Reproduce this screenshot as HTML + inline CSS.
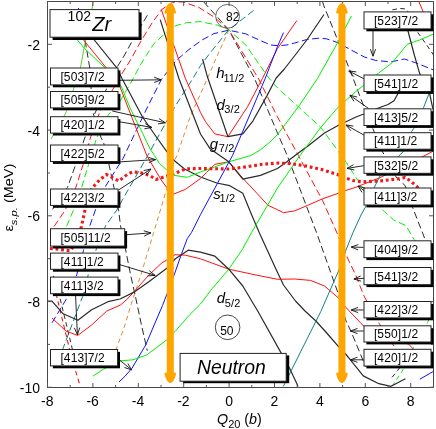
<!DOCTYPE html>
<html><head><meta charset="utf-8"><title>102Zr neutron single-particle energies</title>
<style>html,body{margin:0;padding:0;background:#fff}body{width:436px;height:429px;overflow:hidden;position:relative;font-family:"Liberation Sans",sans-serif}</style>
</head><body>
<svg width="436" height="429" viewBox="0 0 436 429" style="position:absolute;left:0;top:0;will-change:transform">
<defs><clipPath id="c"><rect x="47.5" y="1.5" width="386.0" height="386.0"/></clipPath></defs>
<rect x="0" y="0" width="436" height="429" fill="#fff"/>
<g clip-path="url(#c)" fill="none" stroke-linejoin="round">
<polyline points="52.5,209.4 60.0,198.0 67.4,187.6 75.8,164.3 84.0,140.0 90.0,124.0 95.5,112.0 105.0,92.0 116.8,67.5 124.0,56.0 135.0,36.0 147.8,14.5" stroke="#2a2a2a" stroke-width="1.0" stroke-dasharray="7 3.5"/>
<polyline points="203.7,1.9 228.8,29.8 254.3,78.0 276.2,130.0 287.2,155.5 316.5,232.5 338.5,294.4 345.6,320.0 351.1,331.6 363.5,361.5 366.0,367.0" stroke="#2a2a2a" stroke-width="1.0" stroke-dasharray="7 3.5"/>
<polyline points="54.0,226.5 65.0,210.5 75.8,187.6 83.2,164.3 90.7,136.7 100.0,111.5 112.5,90.0 120.5,76.0 130.5,60.0 141.6,40.0 152.0,23.0 162.0,9.3 172.4,2.6 178.0,1.8 183.5,2.0 199.0,7.5 214.0,17.0 228.8,29.8 258.7,79.0 277.5,117.0 298.4,155.5 322.6,200.6 337.0,233.0 345.4,253.4 356.0,275.8 364.0,296.0 379.4,323.8 394.3,346.5 398.0,352.0" stroke="#ff1010" stroke-width="1.0" stroke-dasharray="7 3.5"/>
<polyline points="57.0,245.0 66.7,226.0 73.5,210.0 81.6,187.6 88.6,164.3 96.6,138.0 108.5,114.5 120.0,101.4 132.4,80.0 140.0,65.5 146.2,55.5 154.0,43.5 162.0,36.2 166.6,32.3 176.0,25.6 186.2,22.8 200.0,21.6 217.6,25.2 228.8,29.8 245.6,44.8 269.0,78.3 277.5,88.0 298.4,106.8 320.8,127.4 338.5,151.6 346.2,162.4 362.0,186.7 380.3,207.8 393.7,220.0 406.0,225.7 413.8,239.2 424.0,252.0 433.5,261.0" stroke="#00f000" stroke-width="1.0" stroke-dasharray="7 3.5"/>
<polyline points="52.0,322.8 68.2,296.0 76.7,274.8 83.5,250.5 89.8,225.8 95.4,210.0 104.7,187.6 123.0,158.5 136.0,131.0 148.0,106.0 161.2,79.8 176.0,60.6 189.0,49.5 202.0,40.0 214.0,33.6 228.8,30.2 245.6,33.8 260.5,40.6 270.8,45.0 279.0,45.8 288.0,44.8 294.6,43.0 306.8,39.5 318.9,38.2 326.4,38.8 337.5,42.5 353.0,51.0 364.4,57.0 375.8,60.5 391.0,61.9 404.4,59.0 415.8,62.8 434.7,70.4" stroke="#1010ff" stroke-width="1.0" stroke-dasharray="7 3.5"/>
<polyline points="58.0,360.0 62.8,349.0 82.6,296.5 88.3,274.5 95.8,250.5 105.6,225.8 116.8,210.0 122.0,200.6 147.2,156.5 165.8,122.7 174.2,107.8 193.8,77.0 200.5,65.5 214.0,48.0 228.8,29.8 242.0,19.5 255.0,9.3" stroke="#108080" stroke-width="1.0" stroke-dasharray="7 3.5"/>
<polyline points="113.0,358.0 116.5,348.3 125.0,325.0 131.2,304.0 140.6,275.8 153.7,232.5 166.8,188.5 174.2,161.5 177.0,155.5 190.0,117.0 200.0,95.0 207.8,77.5 218.0,54.0 228.8,30.2" stroke="#e08a30" stroke-width="1.0" stroke-dasharray="4.6 3.4"/>
<polyline points="84.0,30.0 85.0,40.0 89.8,68.0 91.5,95.0 92.8,112.0 101.0,137.6 103.7,143.0 109.3,166.0 114.0,187.6 118.7,210.9 120.5,225.8 125.4,248.7 130.4,273.9 136.2,300.0 141.5,325.2 147.3,350.8" stroke="#2a2a2a" stroke-width="1.0" stroke-dasharray="7 3.5"/>
<polyline points="52.0,278.0 56.9,297.0 69.5,349.0 75.0,369.0 79.6,384.0" stroke="#ff1010" stroke-width="1.1" stroke-dasharray="4.6 3.4"/>
<polyline points="53.4,275.8 59.7,297.0 72.3,349.0 74.5,360.0" stroke="#2a2a2a" stroke-width="1.0" stroke-dasharray="4.6 3.4"/>
<polyline points="322.5,1.5 323.6,5.2 338.5,42.0 350.6,71.8 364.0,107.0 373.0,129.0 382.0,151.0 385.0,156.0 396.0,177.0 405.0,185.5 412.7,207.7 425.0,239.2 433.5,259.0" stroke="#2a2a2a" stroke-width="1.0" stroke-dasharray="7 3.5"/>
<polyline points="392.4,9.8 399.6,8.5 406.0,8.9 409.0,13.0 413.0,24.0 417.9,32.6 426.0,44.0 433.9,55.5" stroke="#2a2a2a" stroke-width="1.0" stroke-dasharray="4.6 3.4"/>
<polyline points="392.0,386.3 402.0,371.5 414.0,346.5 427.5,322.5 433.5,311.0" stroke="#00f000" stroke-width="1.0" stroke-dasharray="4.6 3.4"/>
<polyline points="392.0,377.4 397.7,370.4 401.0,366.0" stroke="#2a2a2a" stroke-width="1.0" stroke-dasharray="4.6 3.4"/>
<polyline points="78.3,8.0 78.9,9.4" stroke="#1010ff" stroke-width="1.0"/>
<polyline points="93.0,1.5 92.0,9.5 89.0,25.0 85.6,40.0 80.4,68.0 73.9,88.2 66.4,111.5 59.0,126.0 52.8,135.7 51.2,139.0" stroke="#50c818" stroke-width="0.9"/>
<polyline points="88.0,32.0 93.9,39.5 116.8,67.8 122.0,78.5 142.5,117.0 157.4,138.5 166.8,151.6 174.2,160.5 184.5,169.0 200.5,177.0 216.7,183.0 229.8,185.7 242.8,193.2 251.2,213.7 259.2,232.5 276.0,269.2 283.5,285.0 295.5,301.0 305.0,311.0 315.9,321.0 326.3,332.5 339.0,347.2 345.2,353.5 350.0,359.3 363.3,375.9 378.8,383.7 391.0,386.3 405.4,378.8" stroke="#2a2a2a" stroke-width="1.2"/>
<polyline points="77.0,32.0 83.2,39.5 105.6,67.1 120.0,86.8 128.2,108.0 147.0,156.0 161.2,180.0 166.8,187.6 173.8,194.0 185.4,189.4 200.5,178.5 206.5,172.6 214.9,164.3 228.8,161.8 242.8,178.2 256.8,193.2 268.0,205.3 277.0,209.5 283.5,212.7 294.6,210.9 307.7,205.3 322.6,198.8 338.5,193.2 346.0,190.4 356.0,187.2 379.6,177.8 400.0,168.0 419.3,158.3 431.4,152.2 433.5,151.0" stroke="#ff1010" stroke-width="1.0"/>
<polyline points="71.0,32.0 77.0,39.5 85.0,48.9 104.7,67.5 121.2,86.2 130.5,109.0 140.6,129.2 150.0,148.8 154.5,155.5 159.3,163.3 166.8,169.9 174.2,175.4 187.3,177.3 200.5,172.0 228.8,161.8 251.0,155.5 260.5,149.7 270.8,141.3 277.5,134.5 298.4,106.8 317.5,78.5 337.5,42.9 351.5,15.9" stroke="#00f000" stroke-width="1.0"/>
<polyline points="160.2,19.6 178.9,78.5 200.5,134.0 210.2,148.8 217.6,153.9 228.8,161.8 242.8,179.2 260.5,175.4 277.5,168.5 287.2,161.5 296.0,154.8 308.6,145.4 324.5,133.0 338.5,125.3 346.0,121.8 356.0,117.0 363.8,114.0 372.0,110.5 378.5,108.0 388.0,104.5 394.0,100.7 398.3,93.0 401.0,86.0" stroke="#2a2a2a" stroke-width="1.2"/>
<polyline points="161.2,9.3 185.4,78.5 200.5,112.5 205.5,121.8 214.9,133.9 227.9,136.7 247.5,106.8 262.4,78.5 277.5,48.5 296.9,20.5" stroke="#ff1010" stroke-width="1.0"/>
<polyline points="202.6,59.0 207.4,76.8 227.9,136.7 242.8,133.9 253.0,120.8 267.0,95.6 276.2,78.0 284.4,69.0 306.8,40.0 324.0,14.5" stroke="#2a2a2a" stroke-width="1.2"/>
<polyline points="119.0,382.0 125.0,376.2 132.0,368.2 145.7,345.0 155.0,323.0 162.5,305.5 166.8,294.4 174.2,274.8 181.7,253.4 187.3,238.5 191.5,232.5 200.5,214.6 232.5,155.5 265.2,78.5 277.5,46.5 283.5,32.6" stroke="#1010ff" stroke-width="1.0"/>
<polyline points="419.8,379.2 433.5,371.3" stroke="#1010ff" stroke-width="1.0"/>
<polyline points="92.8,376.2 103.3,369.3 119.5,360.9 133.0,359.8 146.7,355.0 166.6,339.9 175.0,331.5 189.7,314.7 200.5,304.0 212.0,288.8 228.8,269.2 242.8,248.7 251.6,232.5 277.5,188.0 300.0,155.5 320.8,127.4 338.5,106.8 346.0,100.3 356.0,91.3 363.8,85.3 378.5,73.2 392.0,62.8 407.3,44.2 419.6,40.0 433.9,33.9" stroke="#00f000" stroke-width="1.0"/>
<polyline points="52.0,318.0 66.0,331.0 77.7,335.5 91.6,325.0 106.8,311.0 120.5,305.0 126.8,299.5 135.0,290.7 148.1,275.8 162.0,262.7 166.8,260.0 175.0,254.7 185.4,255.2 200.5,258.8 228.8,269.2 255.0,274.8 277.5,279.3 294.6,279.0 310.5,280.4 324.5,286.0 338.5,298.0 346.0,307.5 363.7,326.2 385.0,337.0 408.7,344.2 413.2,348.9" stroke="#ff1010" stroke-width="1.0"/>
<polyline points="47.5,301.0 52.0,301.2 63.2,313.8 77.9,320.2 91.6,309.8 108.0,301.7 120.0,299.0 135.0,291.6 148.1,282.3 166.8,268.3 175.0,259.0 188.2,250.2 200.5,252.2 214.9,256.2 228.8,269.2 242.8,286.0 257.7,311.0 280.8,352.4 289.6,368.2 297.0,384.0 298.0,386.5" stroke="#2a2a2a" stroke-width="1.2"/>
<polyline points="283.3,386.4 320.8,311.5 338.5,271.0 345.4,251.5 353.0,232.5 361.0,215.0 366.0,206.0 374.1,187.8 380.7,174.5 399.0,155.8 403.9,151.0 411.6,131.6 413.8,128.3 423.7,107.3 429.2,93.0 433.5,82.0" stroke="#108080" stroke-width="1.0"/>
<polyline points="407.5,29.0 408.0,31.0 414.6,56.0 419.6,73.3 425.0,86.0 429.5,93.0 432.5,107.0 433.5,111.0" stroke="#2a2a2a" stroke-width="1.2"/>
<polyline points="418.8,1.5 423.0,11.4 432.0,28.6 433.5,31.5" stroke="#ff1010" stroke-width="1.0"/>
<polyline points="50.0,248.4 60.0,249.5 70.0,250.8 76.0,243.0 81.4,226.7 85.0,210.0 88.5,196.0 92.2,188.0 99.5,180.0 106.3,174.5 112.5,177.6 119.0,181.0 127.8,174.0 133.0,171.8 140.6,172.8 150.0,175.6 156.0,179.5 163.1,177.2 175.0,173.4 185.5,168.8 202.0,168.5 228.8,169.0 247.5,166.7 262.4,164.3 279.0,163.0 291.0,163.7 305.8,166.0 320.8,169.3 337.5,174.5 346.0,178.2 353.2,180.5 362.0,181.8 379.6,181.0 397.2,179.0 405.0,177.4 410.5,181.0 417.0,186.6 420.0,191.0" stroke="#f01818" stroke-width="3.1" stroke-dasharray="2.8 2.8"/>
</g>
<rect x="47.5" y="1.5" width="386.0" height="386.0" fill="none" stroke="#333" stroke-width="0.9"/>
<path d="M47.5 387.5v-4.5M47.5 1.5v4.5M70.2 387.5v-2.5M70.2 1.5v2.5M92.9 387.5v-4.5M92.9 1.5v4.5M115.6 387.5v-2.5M115.6 1.5v2.5M138.3 387.5v-4.5M138.3 1.5v4.5M161.0 387.5v-2.5M161.0 1.5v2.5M183.7 387.5v-4.5M183.7 1.5v4.5M206.4 387.5v-2.5M206.4 1.5v2.5M229.1 387.5v-4.5M229.1 1.5v4.5M251.8 387.5v-2.5M251.8 1.5v2.5M274.5 387.5v-4.5M274.5 1.5v4.5M297.2 387.5v-2.5M297.2 1.5v2.5M319.9 387.5v-4.5M319.9 1.5v4.5M342.6 387.5v-2.5M342.6 1.5v2.5M365.3 387.5v-4.5M365.3 1.5v4.5M388.0 387.5v-2.5M388.0 1.5v2.5M410.7 387.5v-4.5M410.7 1.5v4.5M433.4 387.5v-2.5M433.4 1.5v2.5M47.5 387.3h4.5M433.5 387.3h-4.5M47.5 344.4h2.5M433.5 344.4h-2.5M47.5 301.6h4.5M433.5 301.6h-4.5M47.5 258.7h2.5M433.5 258.7h-2.5M47.5 215.8h4.5M433.5 215.8h-4.5M47.5 173.0h2.5M433.5 173.0h-2.5M47.5 130.1h4.5M433.5 130.1h-4.5M47.5 87.2h2.5M433.5 87.2h-2.5M47.5 44.3h4.5M433.5 44.3h-4.5M47.5 1.5h2.5M433.5 1.5h-2.5" stroke="#555" stroke-width="1" fill="none"/>
<path d="M170.30 3.20C173.60 3.20 175.00 8.40 176.15 12.40Q176.35 13.70 173.80 13.60L173.80 372.60Q176.35 372.50 176.15 373.80C175.00 377.80 173.60 383.00 170.30 383.00C167.00 383.00 165.60 377.80 164.45 373.80Q164.25 372.50 166.80 372.60L166.80 13.60Q164.25 13.70 164.45 12.40C165.60 8.40 167.00 3.20 170.30 3.20z" fill="#FFA500"/>
<path d="M341.95 3.20C345.25 3.20 346.65 8.40 347.80 12.40Q348.00 13.70 345.45 13.60L345.45 372.60Q348.00 372.50 347.80 373.80C346.65 377.80 345.25 383.00 341.95 383.00C338.65 383.00 337.25 377.80 336.10 373.80Q335.90 372.50 338.45 372.60L338.45 13.60Q335.90 13.70 336.10 12.40C337.25 8.40 338.65 3.20 341.95 3.20z" fill="#FFA500"/>
<circle cx="227.6" cy="16.3" r="11.9" fill="none" stroke="#444" stroke-width="0.8"/>
<circle cx="227.6" cy="327.3" r="12.3" fill="none" stroke="#333" stroke-width="0.9"/>
<path d="M119.5 80.3L161.2 79.8M154.2 82.5L161.2 79.8L154.1 77.2" stroke="#111" stroke-width="0.9" fill="none"/>
<path d="M112.3 111.0L165.4 122.8M158.0 123.9L165.4 122.8L159.1 118.7" stroke="#111" stroke-width="0.9" fill="none"/>
<path d="M119.6 121.8L151.8 127.4M144.4 128.8L151.8 127.4L145.3 123.6" stroke="#111" stroke-width="0.9" fill="none"/>
<path d="M119.6 161.9L155.6 159.6M148.8 162.7L155.6 159.6L148.4 157.4" stroke="#111" stroke-width="0.9" fill="none"/>
<path d="M118.5 190.0L151.0 169.0M146.5 175.0L151.0 169.0L143.7 170.6" stroke="#111" stroke-width="0.9" fill="none"/>
<path d="M127.0 234.7L151.0 232.9M144.2 236.1L151.0 232.9L143.8 230.8" stroke="#111" stroke-width="0.9" fill="none"/>
<path d="M119.6 264.6L155.2 275.4M147.7 275.9L155.2 275.4L149.3 270.8" stroke="#111" stroke-width="0.9" fill="none"/>
<path d="M75.6 296.0L77.4 334.8M74.4 327.9L77.4 334.8L79.7 327.7" stroke="#111" stroke-width="0.9" fill="none"/>
<path d="M119.5 360.0L131.6 369.9M124.5 367.5L131.6 369.9L127.8 363.4" stroke="#111" stroke-width="0.9" fill="none"/>
<path d="M373.0 30.5L373.0 56.2M370.4 49.2L373.0 56.2L375.6 49.2" stroke="#111" stroke-width="0.9" fill="none"/>
<path d="M363.8 78.7L348.8 71.0M356.3 71.9L348.8 71.0L353.8 76.6" stroke="#111" stroke-width="0.9" fill="none"/>
<path d="M368.6 108.5L349.9 95.2M357.2 97.1L349.9 95.2L354.1 101.4" stroke="#111" stroke-width="0.9" fill="none"/>
<path d="M363.8 135.0L346.0 125.0M353.4 126.1L346.0 125.0L350.8 130.7" stroke="#111" stroke-width="0.9" fill="none"/>
<path d="M363.8 165.7L347.0 168.4M353.5 164.7L347.0 168.4L354.3 169.9" stroke="#111" stroke-width="0.9" fill="none"/>
<path d="M364.0 190.6L358.0 186.0M365.2 188.2L358.0 186.0L362.0 192.4" stroke="#111" stroke-width="0.9" fill="none"/>
<path d="M363.5 247.4L351.2 247.0M358.3 244.6L351.2 247.0L358.1 249.9" stroke="#111" stroke-width="0.9" fill="none"/>
<path d="M364.2 278.3L353.9 279.0M360.7 275.9L353.9 279.0L361.1 281.2" stroke="#111" stroke-width="0.9" fill="none"/>
<path d="M363.7 310.0L351.1 310.0M358.1 307.4L351.1 310.0L358.1 312.6" stroke="#111" stroke-width="0.9" fill="none"/>
<path d="M363.7 331.0L350.5 331.0M357.5 328.4L350.5 331.0L357.5 333.6" stroke="#111" stroke-width="0.9" fill="none"/>
<path d="M363.7 359.8L350.5 359.8M357.5 357.2L350.5 359.8L357.5 362.4" stroke="#111" stroke-width="0.9" fill="none"/>
<rect x="52.9" y="70.4" width="67.5" height="16.9" fill="#000"/>
<rect x="50.5" y="68.0" width="67.5" height="16.9" fill="#fff" stroke="#222" stroke-width="1"/>
<rect x="52.9" y="93.9" width="67.5" height="16.4" fill="#000"/>
<rect x="50.5" y="91.5" width="67.5" height="16.4" fill="#fff" stroke="#222" stroke-width="1"/>
<rect x="52.9" y="119.1" width="67.5" height="16.4" fill="#000"/>
<rect x="50.5" y="116.7" width="67.5" height="16.4" fill="#fff" stroke="#222" stroke-width="1"/>
<rect x="52.9" y="147.4" width="67.5" height="16.5" fill="#000"/>
<rect x="50.5" y="145.0" width="67.5" height="16.5" fill="#fff" stroke="#222" stroke-width="1"/>
<rect x="52.9" y="191.4" width="67.5" height="16.4" fill="#000"/>
<rect x="50.5" y="189.0" width="67.5" height="16.4" fill="#fff" stroke="#222" stroke-width="1"/>
<rect x="52.9" y="231.1" width="74.2" height="17.4" fill="#000"/>
<rect x="50.5" y="228.7" width="74.2" height="17.4" fill="#fff" stroke="#222" stroke-width="1"/>
<rect x="52.9" y="255.5" width="67.5" height="16.2" fill="#000"/>
<rect x="50.5" y="253.1" width="67.5" height="16.2" fill="#fff" stroke="#222" stroke-width="1"/>
<rect x="52.9" y="279.5" width="67.5" height="16.6" fill="#000"/>
<rect x="50.5" y="277.1" width="67.5" height="16.6" fill="#fff" stroke="#222" stroke-width="1"/>
<rect x="52.9" y="351.9" width="67.1" height="16.4" fill="#000"/>
<rect x="50.5" y="349.5" width="67.1" height="16.4" fill="#fff" stroke="#222" stroke-width="1"/>
<rect x="366.4" y="14.3" width="67.0" height="17.0" fill="#000"/>
<rect x="364.0" y="11.9" width="67.0" height="17.0" fill="#fff" stroke="#222" stroke-width="1"/>
<rect x="366.4" y="77.4" width="67.0" height="16.5" fill="#000"/>
<rect x="364.0" y="75.0" width="67.0" height="16.5" fill="#fff" stroke="#222" stroke-width="1"/>
<rect x="366.4" y="111.2" width="67.0" height="16.7" fill="#000"/>
<rect x="364.0" y="108.8" width="67.0" height="16.7" fill="#fff" stroke="#222" stroke-width="1"/>
<rect x="366.4" y="135.1" width="67.0" height="16.5" fill="#000"/>
<rect x="364.0" y="132.7" width="67.0" height="16.5" fill="#fff" stroke="#222" stroke-width="1"/>
<rect x="366.4" y="159.3" width="67.0" height="16.4" fill="#000"/>
<rect x="364.0" y="156.9" width="67.0" height="16.4" fill="#fff" stroke="#222" stroke-width="1"/>
<rect x="366.4" y="190.4" width="67.0" height="17.0" fill="#000"/>
<rect x="364.0" y="188.0" width="67.0" height="17.0" fill="#fff" stroke="#222" stroke-width="1"/>
<rect x="366.4" y="243.2" width="67.0" height="16.9" fill="#000"/>
<rect x="364.0" y="240.8" width="67.0" height="16.9" fill="#fff" stroke="#222" stroke-width="1"/>
<rect x="366.4" y="269.9" width="67.0" height="17.2" fill="#000"/>
<rect x="364.0" y="267.5" width="67.0" height="17.2" fill="#fff" stroke="#222" stroke-width="1"/>
<rect x="366.4" y="303.9" width="67.0" height="16.4" fill="#000"/>
<rect x="364.0" y="301.5" width="67.0" height="16.4" fill="#fff" stroke="#222" stroke-width="1"/>
<rect x="366.4" y="328.2" width="67.0" height="16.2" fill="#000"/>
<rect x="364.0" y="325.8" width="67.0" height="16.2" fill="#fff" stroke="#222" stroke-width="1"/>
<rect x="366.4" y="351.7" width="67.0" height="16.7" fill="#000"/>
<rect x="364.0" y="349.3" width="67.0" height="16.7" fill="#fff" stroke="#222" stroke-width="1"/>
<rect x="52.6" y="12.4" width="89.0" height="27.6" fill="#000"/>
<rect x="50.0" y="9.6" width="89.0" height="27.6" fill="#fff" stroke="#222" stroke-width="1"/>
<rect x="183.1" y="355.4" width="106.1" height="27.8" fill="#000"/>
<rect x="180.1" y="353.4" width="106.1" height="27.8" fill="#fff" stroke="#222" stroke-width="1"/>
<g opacity="0.999"><text x="60.4" y="80.9" font-family="Liberation Sans, sans-serif" font-size="12" text-anchor="start" fill="#000" letter-spacing="0.13">[503]7/2</text>
<text x="60.4" y="104.1" font-family="Liberation Sans, sans-serif" font-size="12" text-anchor="start" fill="#000" letter-spacing="0.13">[505]9/2</text>
<text x="60.4" y="129.3" font-family="Liberation Sans, sans-serif" font-size="12" text-anchor="start" fill="#000" letter-spacing="0.13">[420]1/2</text>
<text x="60.4" y="157.7" font-family="Liberation Sans, sans-serif" font-size="12" text-anchor="start" fill="#000" letter-spacing="0.13">[422]5/2</text>
<text x="60.4" y="201.6" font-family="Liberation Sans, sans-serif" font-size="12" text-anchor="start" fill="#000" letter-spacing="0.13">[422]3/2</text>
<text x="60.4" y="241.8" font-family="Liberation Sans, sans-serif" font-size="12" text-anchor="start" fill="#000" letter-spacing="0.13">[505]11/2</text>
<text x="60.4" y="265.6" font-family="Liberation Sans, sans-serif" font-size="12" text-anchor="start" fill="#000" letter-spacing="0.13">[411]1/2</text>
<text x="60.4" y="289.8" font-family="Liberation Sans, sans-serif" font-size="12" text-anchor="start" fill="#000" letter-spacing="0.13">[411]3/2</text>
<text x="60.4" y="362.1" font-family="Liberation Sans, sans-serif" font-size="12" text-anchor="start" fill="#000" letter-spacing="0.13">[413]7/2</text>
<text x="373.9" y="24.8" font-family="Liberation Sans, sans-serif" font-size="12" text-anchor="start" fill="#000" letter-spacing="0.13">[523]7/2</text>
<text x="373.9" y="87.7" font-family="Liberation Sans, sans-serif" font-size="12" text-anchor="start" fill="#000" letter-spacing="0.13">[541]1/2</text>
<text x="373.9" y="121.6" font-family="Liberation Sans, sans-serif" font-size="12" text-anchor="start" fill="#000" letter-spacing="0.13">[413]5/2</text>
<text x="373.9" y="145.3" font-family="Liberation Sans, sans-serif" font-size="12" text-anchor="start" fill="#000" letter-spacing="0.13">[411]1/2</text>
<text x="373.9" y="169.5" font-family="Liberation Sans, sans-serif" font-size="12" text-anchor="start" fill="#000" letter-spacing="0.13">[532]5/2</text>
<text x="373.9" y="200.9" font-family="Liberation Sans, sans-serif" font-size="12" text-anchor="start" fill="#000" letter-spacing="0.13">[411]3/2</text>
<text x="373.9" y="253.7" font-family="Liberation Sans, sans-serif" font-size="12" text-anchor="start" fill="#000" letter-spacing="0.13">[404]9/2</text>
<text x="373.9" y="280.5" font-family="Liberation Sans, sans-serif" font-size="12" text-anchor="start" fill="#000" letter-spacing="0.13">[541]3/2</text>
<text x="373.9" y="314.1" font-family="Liberation Sans, sans-serif" font-size="12" text-anchor="start" fill="#000" letter-spacing="0.13">[422]3/2</text>
<text x="373.9" y="338.3" font-family="Liberation Sans, sans-serif" font-size="12" text-anchor="start" fill="#000" letter-spacing="0.13">[550]1/2</text>
<text x="373.9" y="362.0" font-family="Liberation Sans, sans-serif" font-size="12" text-anchor="start" fill="#000" letter-spacing="0.13">[420]1/2</text>
<text x="67.6" y="21.3" font-family="Liberation Sans, sans-serif" font-size="14" text-anchor="start" fill="#000" >102</text>
<text x="92.3" y="30.7" font-family="Liberation Sans, sans-serif" font-size="20" text-anchor="start" font-style="italic" fill="#000" >Zr</text>
<text x="196.9" y="374.3" font-family="Liberation Sans, sans-serif" font-size="19.4" text-anchor="start" font-style="italic" fill="#000" >Neutron</text>
<text x="226.0" y="20.6" font-family="Liberation Sans, sans-serif" font-size="12" text-anchor="start" fill="#000" >82</text>
<text x="220.2" y="334.6" font-family="Liberation Sans, sans-serif" font-size="12" text-anchor="start" fill="#000" >50</text>
<text x="216.2" y="77.8" font-family="Liberation Sans, sans-serif" font-size="15" text-anchor="start" font-style="italic" fill="#000" >h</text>
<text x="223.4" y="81.6" font-family="Liberation Sans, sans-serif" font-size="11" text-anchor="start" fill="#000" letter-spacing="0.15">11/2</text>
<text x="216.6" y="109.7" font-family="Liberation Sans, sans-serif" font-size="15" text-anchor="start" font-style="italic" fill="#000" >d</text>
<text x="224.3" y="113.4" font-family="Liberation Sans, sans-serif" font-size="11" text-anchor="start" fill="#000" letter-spacing="0.15">3/2</text>
<text x="209.8" y="148.6" font-family="Liberation Sans, sans-serif" font-size="15" text-anchor="start" font-style="italic" fill="#000" >g</text>
<text x="218.8" y="151.7" font-family="Liberation Sans, sans-serif" font-size="11" text-anchor="start" fill="#000" letter-spacing="0.15">7/2</text>
<text x="213.3" y="198.7" font-family="Liberation Sans, sans-serif" font-size="15" text-anchor="start" font-style="italic" fill="#000" >s</text>
<text x="219.5" y="201.7" font-family="Liberation Sans, sans-serif" font-size="11" text-anchor="start" fill="#000" letter-spacing="0.15">1/2</text>
<text x="216.8" y="303.4" font-family="Liberation Sans, sans-serif" font-size="15" text-anchor="start" font-style="italic" fill="#000" >d</text>
<text x="224.8" y="306.6" font-family="Liberation Sans, sans-serif" font-size="11" text-anchor="start" fill="#000" letter-spacing="0.15">5/2</text>
<text transform="translate(47.2,405.6) scale(1,1.07)" font-family="Liberation Sans, sans-serif" font-size="14" text-anchor="middle" fill="#000">-8</text>
<text transform="translate(92.6,405.6) scale(1,1.07)" font-family="Liberation Sans, sans-serif" font-size="14" text-anchor="middle" fill="#000">-6</text>
<text transform="translate(138.0,405.6) scale(1,1.07)" font-family="Liberation Sans, sans-serif" font-size="14" text-anchor="middle" fill="#000">-4</text>
<text transform="translate(183.4,405.6) scale(1,1.07)" font-family="Liberation Sans, sans-serif" font-size="14" text-anchor="middle" fill="#000">-2</text>
<text transform="translate(229.1,405.6) scale(1,1.07)" font-family="Liberation Sans, sans-serif" font-size="14" text-anchor="middle" fill="#000">0</text>
<text transform="translate(274.5,405.6) scale(1,1.07)" font-family="Liberation Sans, sans-serif" font-size="14" text-anchor="middle" fill="#000">2</text>
<text transform="translate(319.9,405.6) scale(1,1.07)" font-family="Liberation Sans, sans-serif" font-size="14" text-anchor="middle" fill="#000">4</text>
<text transform="translate(365.3,405.6) scale(1,1.07)" font-family="Liberation Sans, sans-serif" font-size="14" text-anchor="middle" fill="#000">6</text>
<text transform="translate(410.7,405.6) scale(1,1.07)" font-family="Liberation Sans, sans-serif" font-size="14" text-anchor="middle" fill="#000">8</text>
<text transform="translate(40.0,392.7) scale(1,1.07)" font-family="Liberation Sans, sans-serif" font-size="14" text-anchor="end" fill="#000">-10</text>
<text transform="translate(40.0,307.0) scale(1,1.07)" font-family="Liberation Sans, sans-serif" font-size="14" text-anchor="end" fill="#000">-8</text>
<text transform="translate(40.0,221.2) scale(1,1.07)" font-family="Liberation Sans, sans-serif" font-size="14" text-anchor="end" fill="#000">-6</text>
<text transform="translate(40.0,135.5) scale(1,1.07)" font-family="Liberation Sans, sans-serif" font-size="14" text-anchor="end" fill="#000">-4</text>
<text transform="translate(40.0,49.7) scale(1,1.07)" font-family="Liberation Sans, sans-serif" font-size="14" text-anchor="end" fill="#000">-2</text>
<text x="217" y="424.2" font-family="Liberation Sans, sans-serif" font-size="14.3" fill="#000"><tspan font-style="italic">Q</tspan><tspan font-size="11" dy="3.4">20</tspan><tspan dy="-3.4"> (</tspan><tspan font-style="italic">b</tspan>)</text>
<text transform="translate(12.5,231.6) rotate(-90) scale(1.07,0.95)" font-family="Liberation Sans, sans-serif" font-size="13.5" fill="#000">ε<tspan font-size="10.5" font-style="italic" dy="4.6">s.p.</tspan><tspan dy="-4.6"> (MeV)</tspan></text></g>
</svg>
</body></html>
